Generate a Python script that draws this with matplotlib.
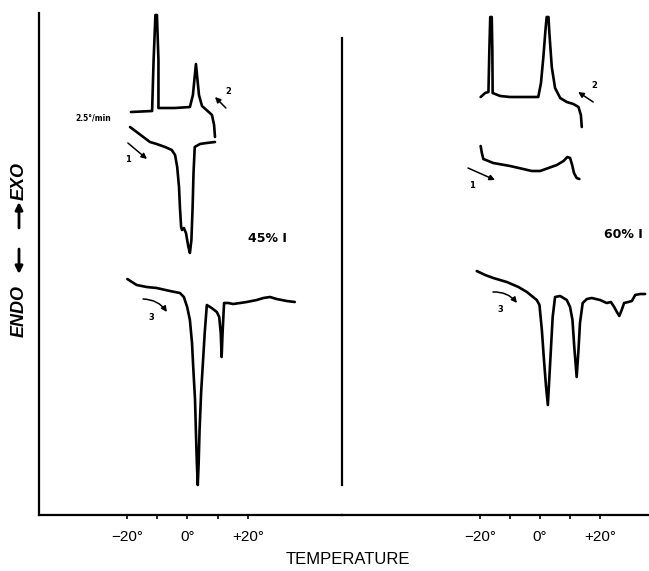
import matplotlib
matplotlib.use("Agg")
import matplotlib.pyplot as plt
from matplotlib.patches import FancyArrowPatch

# DSC traces, temperature in deg C, heat flow in arbitrary units
# ---- 45 % I ----
t45_run1 = [-19.0, -16.8, -14.6, -12.4, -10.2, -7.4, -5.2, -4.1, -3.4, -2.8, -2.5, -2.1, -1.8, -1.2,
            -0.5, 0.3, 0.8, 1.3, 1.7, 2.0, 2.4, 4.1, 6.3, 9.1]
y45_run1 = [38.8, 38.3, 37.8, 37.3, 37.1, 36.8, 36.5, 36.0, 34.8, 32.8, 30.8, 28.8, 28.5, 28.7,
            28.2, 26.8, 26.2, 27.5, 30.8, 34.2, 36.8, 37.1, 37.2, 37.3]
t45_run2 = [-18.7, -11.7, -11.2, -10.6, -10.1, -9.6, -9.6, -4.1, 0.8, 1.8, 2.8, 3.8, 4.8, 7.4, 8.1, 8.8, 9.1]
y45_run2 = [40.3, 40.4, 45.5, 50.0, 50.0, 45.5, 40.7, 40.7, 40.8, 42.0, 45.1, 42.0, 40.9, 40.2, 40.0, 39.0, 37.8]
t45_run3 = [-19.9, -16.8, -13.5, -10.2, -5.8, -2.5, -1.2, -0.1, 0.8, 1.5, 1.9, 2.5, 2.8, 3.1, 3.4, 3.7,
            4.0, 4.5, 5.1, 5.7, 6.4, 8.0, 9.7, 10.5, 11.0, 11.3, 11.6, 12.1, 13.5, 15.1, 17.4, 19.6,
            22.9, 25.1, 27.3, 29.5, 32.8, 35.5]
y45_run3 = [23.6, 23.0, 22.8, 22.7, 22.4, 22.2, 21.8, 20.8, 19.5, 17.2, 14.8, 11.5, 8.2, 5.2, 3.0, 5.2,
            8.5, 12.2, 15.2, 18.2, 21.0, 20.7, 20.3, 19.8, 18.2, 15.8, 18.2, 21.2, 21.2, 21.1, 21.2, 21.3,
            21.5, 21.7, 21.8, 21.6, 21.4, 21.3]

# ---- 60 % I ----
t60_run1 = [-19.8, -19.4, -18.9, -15.6, -10.0, -5.6, -2.8, 0.0, 2.8, 5.6, 7.8, 9.1, 10.0, 10.7, 11.3, 12.2, 13.1]
y60_run1 = [36.9, 36.2, 35.6, 35.2, 34.9, 34.6, 34.4, 34.4, 34.7, 35.0, 35.4, 35.8, 35.7, 35.0, 34.2, 33.7, 33.6]
t60_run2 = [-19.8, -18.3, -17.2, -16.9, -16.6, -16.1, -15.9, -15.8, -13.3, -10.0, -4.4, -0.6, 0.3, 1.1,
            1.8, 2.2, 2.8, 3.1, 3.9, 5.0, 6.7, 8.9, 11.1, 12.8, 13.6, 13.9]
y60_run2 = [41.8, 42.2, 42.3, 46.5, 49.8, 49.8, 46.5, 42.2, 41.9, 41.8, 41.8, 41.8, 43.2, 45.8,
            48.5, 49.8, 49.8, 48.2, 44.8, 42.7, 41.7, 41.3, 41.1, 40.8, 40.0, 38.8]
t60_run3 = [-21.1, -18.3, -15.6, -11.1, -7.2, -4.4, -1.1, -0.2, 0.6, 1.3, 2.0, 2.6, 3.0, 3.6, 4.2, 5.0,
            6.7, 8.9, 10.0, 10.8, 11.4, 12.2, 12.8, 13.3, 14.2, 15.6, 17.2, 20.0, 22.2, 23.6, 24.7,
            25.6, 26.4, 27.2, 28.0, 29.4, 30.6, 31.7, 33.3, 35.0]
y60_run3 = [24.4, 24.0, 23.7, 23.3, 22.8, 22.3, 21.5, 21.0, 18.5, 15.5, 12.8, 11.0, 13.2, 16.5, 19.8, 21.8,
            21.9, 21.5, 20.8, 19.5, 16.8, 13.8, 16.5, 19.2, 21.2, 21.6, 21.7, 21.5, 21.2, 21.3, 20.8,
            20.3, 19.9, 20.5, 21.2, 21.3, 21.4, 22.0, 22.1, 22.1]

tick_pos = [-20, -10, 0, 10, 20]
tick_txt = ["\u221220\u00b0", "", "0\u00b0", "", "+20\u00b0"]

# scan arrows: (label, tail, head, label position)
arrows45 = [("1", (-19.7, 37.2), (-13.4, 35.6), (-19.7, 35.6)),
            ("2", (12.7, 40.7), (9.1, 41.8), (13.4, 42.4)),
            ("3", (-14.7, 21.6), (-6.8, 20.3), (-12.0, 19.8))]
arrows60 = [("1", (-24.0, 34.7), (-15.0, 33.5), (-22.7, 33.0)),
            ("2", (17.7, 41.3), (12.7, 42.3), (18.2, 42.9)),
            ("3", (-15.7, 22.3), (-7.7, 21.2), (-13.3, 20.6))]

W, H = 649, 571
fig = plt.figure(figsize=(W / 100, H / 100), dpi=100)
sans = ["Liberation Sans", "DejaVu Sans"]

axL = fig.add_axes([39 / W, 56 / H, 303 / W, 502 / H])
axR = fig.add_axes([342 / W, 56 / H, 307 / W, 502 / H])
axL.set_xlim(-49.1, 51.1)
axR.set_xlim(-66.0, 36.3)

for ax in (axL, axR):
    ax.set_ylim(0, 50.2)
    ax.patch.set_alpha(0)
    ax.spines["top"].set_visible(False)
    ax.spines["right"].set_visible(False)
    ax.spines["bottom"].set_linewidth(1.6)
    ax.spines["left"].set_linewidth(1.6)
    ax.set_yticks([])
    ax.set_xticks(tick_pos)
    ax.set_xticklabels(tick_txt, fontsize=11, family=sans)
    ax.tick_params(axis="x", direction="out", length=3, width=1.2, pad=8)
axR.spines["left"].set_visible(False)

lw = 1.9
for ax, t, y in ((axL, t45_run1, y45_run1), (axL, t45_run2, y45_run2), (axL, t45_run3, y45_run3),
                 (axR, t60_run1, y60_run1), (axR, t60_run2, y60_run2), (axR, t60_run3, y60_run3)):
    ax.plot(t, y, color="black", lw=lw, solid_joinstyle="round", solid_capstyle="round")

# divider between the two compositions
axL.axvline(51.1, ymin=0.06, ymax=0.95, color="black", lw=1.6, clip_on=False)

for ax, arrs in ((axL, arrows45), (axR, arrows60)):
    for lab, tail, head, lpos in arrs:
        rad = -0.25 if lab == "3" else 0.0
        ax.annotate("", xy=head, xytext=tail,
                    arrowprops=dict(arrowstyle="-|>", color="black", lw=1.1, mutation_scale=8,
                                    shrinkA=0, shrinkB=0, connectionstyle="arc3,rad=%s" % rad))
        ax.text(lpos[0], lpos[1], lab, fontsize=6, fontweight="bold", ha="center", va="center")

axL.text(-37.2, 39.7, "2.5\u00b0/min", fontsize=5.5, fontweight="bold", ha="left", va="center")
axL.text(26.3, 27.6, "45% I", fontsize=9, fontweight="bold", ha="center", va="center")
axR.text(34.3, 28.0, "60% I", fontsize=9, fontweight="bold", ha="right", va="center")

fig.text(348 / W, 1 - 560 / H, "TEMPERATURE", fontsize=12, family=sans, ha="center", va="center")

# ENDO / EXO label with its two arrows
fig.text(19 / W, 1 - 311 / H, "ENDO", fontsize=13, family=sans, fontstyle="italic",
         fontweight="bold", rotation=90, ha="center", va="center")
fig.text(19 / W, 1 - 181 / H, "EXO", fontsize=13, family=sans, fontstyle="italic",
         fontweight="bold", rotation=90, ha="center", va="center")
for y0, y1 in ((249, 274), (228, 202)):
    fig.add_artist(FancyArrowPatch((19 / W, 1 - y0 / H), (19 / W, 1 - y1 / H), transform=fig.transFigure,
                                   arrowstyle="-|>", mutation_scale=11, lw=2, color="black",
                                   shrinkA=0, shrinkB=0))

fig.savefig("out.png", dpi=100)
